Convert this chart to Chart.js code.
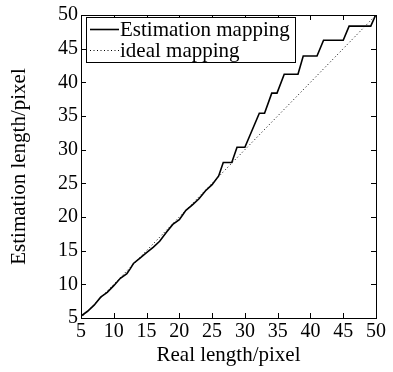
<!DOCTYPE html>
<html><head><meta charset="utf-8">
<script src="https://cdn.jsdelivr.net/npm/chart.js@4/dist/chart.umd.min.js"></script>
<style>html,body{margin:0;padding:0;background:#fff;}</style>
</head><body>
<canvas id="c" width="393" height="372"></canvas>
<script>
const estX = [5, 6, 7, 8, 9, 10, 11, 12, 12.5, 13, 14, 15, 16, 17, 18, 19, 20, 20.5, 21, 22, 23, 24, 25, 26, 26.7, 28.0, 28.8, 30.0, 32.2, 33.0, 34.1, 34.9, 36.0, 38.1, 38.9, 41.0, 42.0, 45.0, 45.9, 49.2, 50];
const estY = [5.3, 6.0, 6.9, 8.1, 8.8, 9.8, 10.9, 11.6, 12.3, 13.1, 13.9, 14.7, 15.5, 16.4, 17.7, 18.9, 19.6, 20.3, 21.0, 21.8, 22.7, 23.9, 24.8, 26.1, 28.1, 28.1, 30.35, 30.35, 35.4, 35.4, 38.4, 38.4, 41.2, 41.2, 43.9, 43.9, 46.25, 46.25, 48.35, 48.35, 50.1];
const idealX = [5, 50];
const idealY = [5, 50];
const xTicks = [5, 10, 15, 20, 25, 30, 35, 40, 45, 50];
const yTicks = [5, 10, 15, 20, 25, 30, 35, 40, 45, 50];
const seriesLabels = ['Estimation mapping', 'ideal mapping'];
const xTitle = 'Real length/pixel';
const yTitle = 'Estimation length/pixel';

const FONT = '"Liberation Serif", "Times New Roman", serif';

const framePlugin = {
  id: 'frame',
  afterDatasetsDraw(chart) {
    const {ctx, chartArea: a, scales} = chart;
    ctx.save();
    ctx.strokeStyle = '#000';
    ctx.lineWidth = 1;
    ctx.strokeRect(a.left + 0.5, a.top + 0.5, a.right - a.left, a.bottom - a.top);
    const L = 5;
    ctx.beginPath();
    xTicks.forEach(v => {
      const px = Math.round(scales.x.getPixelForValue(v)) + 0.5;
      ctx.moveTo(px, a.bottom); ctx.lineTo(px, a.bottom - L);
      ctx.moveTo(px, a.top); ctx.lineTo(px, a.top + L);
    });
    yTicks.forEach(v => {
      const py = Math.round(scales.y.getPixelForValue(v)) + 0.5;
      ctx.moveTo(a.left, py); ctx.lineTo(a.left + L, py);
      ctx.moveTo(a.right, py); ctx.lineTo(a.right - L, py);
    });
    ctx.stroke();
    // legend box
    const bx = 86, by = 17, bw = 209, bh = 45;
    ctx.fillStyle = '#fff';
    ctx.fillRect(bx, by, bw, bh);
    ctx.strokeRect(bx + 0.5, by + 0.5, bw, bh);
    const rows = [29, 50];
    chart.data.datasets.forEach((ds, i) => {
      ctx.beginPath();
      ctx.lineWidth = ds.borderWidth;
      ctx.setLineDash(ds.borderDash || []);
      ctx.strokeStyle = ds.borderColor;
      ctx.moveTo(90, rows[i] + 0.5); ctx.lineTo(119, rows[i] + 0.5);
      ctx.stroke();
      ctx.setLineDash([]);
      ctx.fillStyle = '#000';
      ctx.font = '21px ' + FONT;
      ctx.textBaseline = 'middle';
      ctx.textAlign = 'left';
      ctx.fillText(ds.label, 120, rows[i] + 1);
    });
    ctx.restore();
  }
};

new Chart(document.getElementById('c'), {
  type: 'line',
  data: {
    datasets: [
      {label: seriesLabels[0], data: estX.map((x, i) => ({x, y: estY[i]})), borderColor: '#000', borderWidth: 1.6, pointRadius: 0, fill: false, tension: 0},
      {label: seriesLabels[1], data: idealX.map((x, i) => ({x, y: idealY[i]})), borderColor: '#000', borderWidth: 1, borderDash: [1, 2.5], pointRadius: 0, fill: false, tension: 0}
    ]
  },
  options: {
    responsive: false,
    devicePixelRatio: 1,
    animation: false,
    layout: {padding: {left: 0, right: 17, top: 14, bottom: 0}},
    plugins: {legend: {display: false}, tooltip: {enabled: false}},
    scales: {
      x: {
        type: 'linear', min: 5, max: 50,
        afterBuildTicks: s => { s.ticks = xTicks.map(v => ({value: v})); },
        afterFit: s => { s.height = 54; },
        grid: {display: false, drawTicks: false},
        border: {display: false},
        ticks: {color: '#000', font: {family: FONT, size: 20}, padding: 2, maxRotation: 0, autoSkip: false},
        title: {display: true, text: xTitle, color: '#000', font: {family: FONT, size: 21}, padding: {top: 0, bottom: 4}}
      },
      y: {
        type: 'linear', min: 5, max: 50,
        afterBuildTicks: s => { s.ticks = yTicks.map(v => ({value: v})); },
        afterFit: s => { s.width = 81; },
        grid: {display: false, drawTicks: false},
        border: {display: false},
        ticks: {color: '#000', font: {family: FONT, size: 20}, padding: 3, autoSkip: false},
        title: {display: true, text: yTitle, color: '#000', font: {family: FONT, size: 21}, padding: {top: 7, bottom: 0}}
      }
    }
  },
  plugins: [framePlugin]
});
</script>
</body></html>
